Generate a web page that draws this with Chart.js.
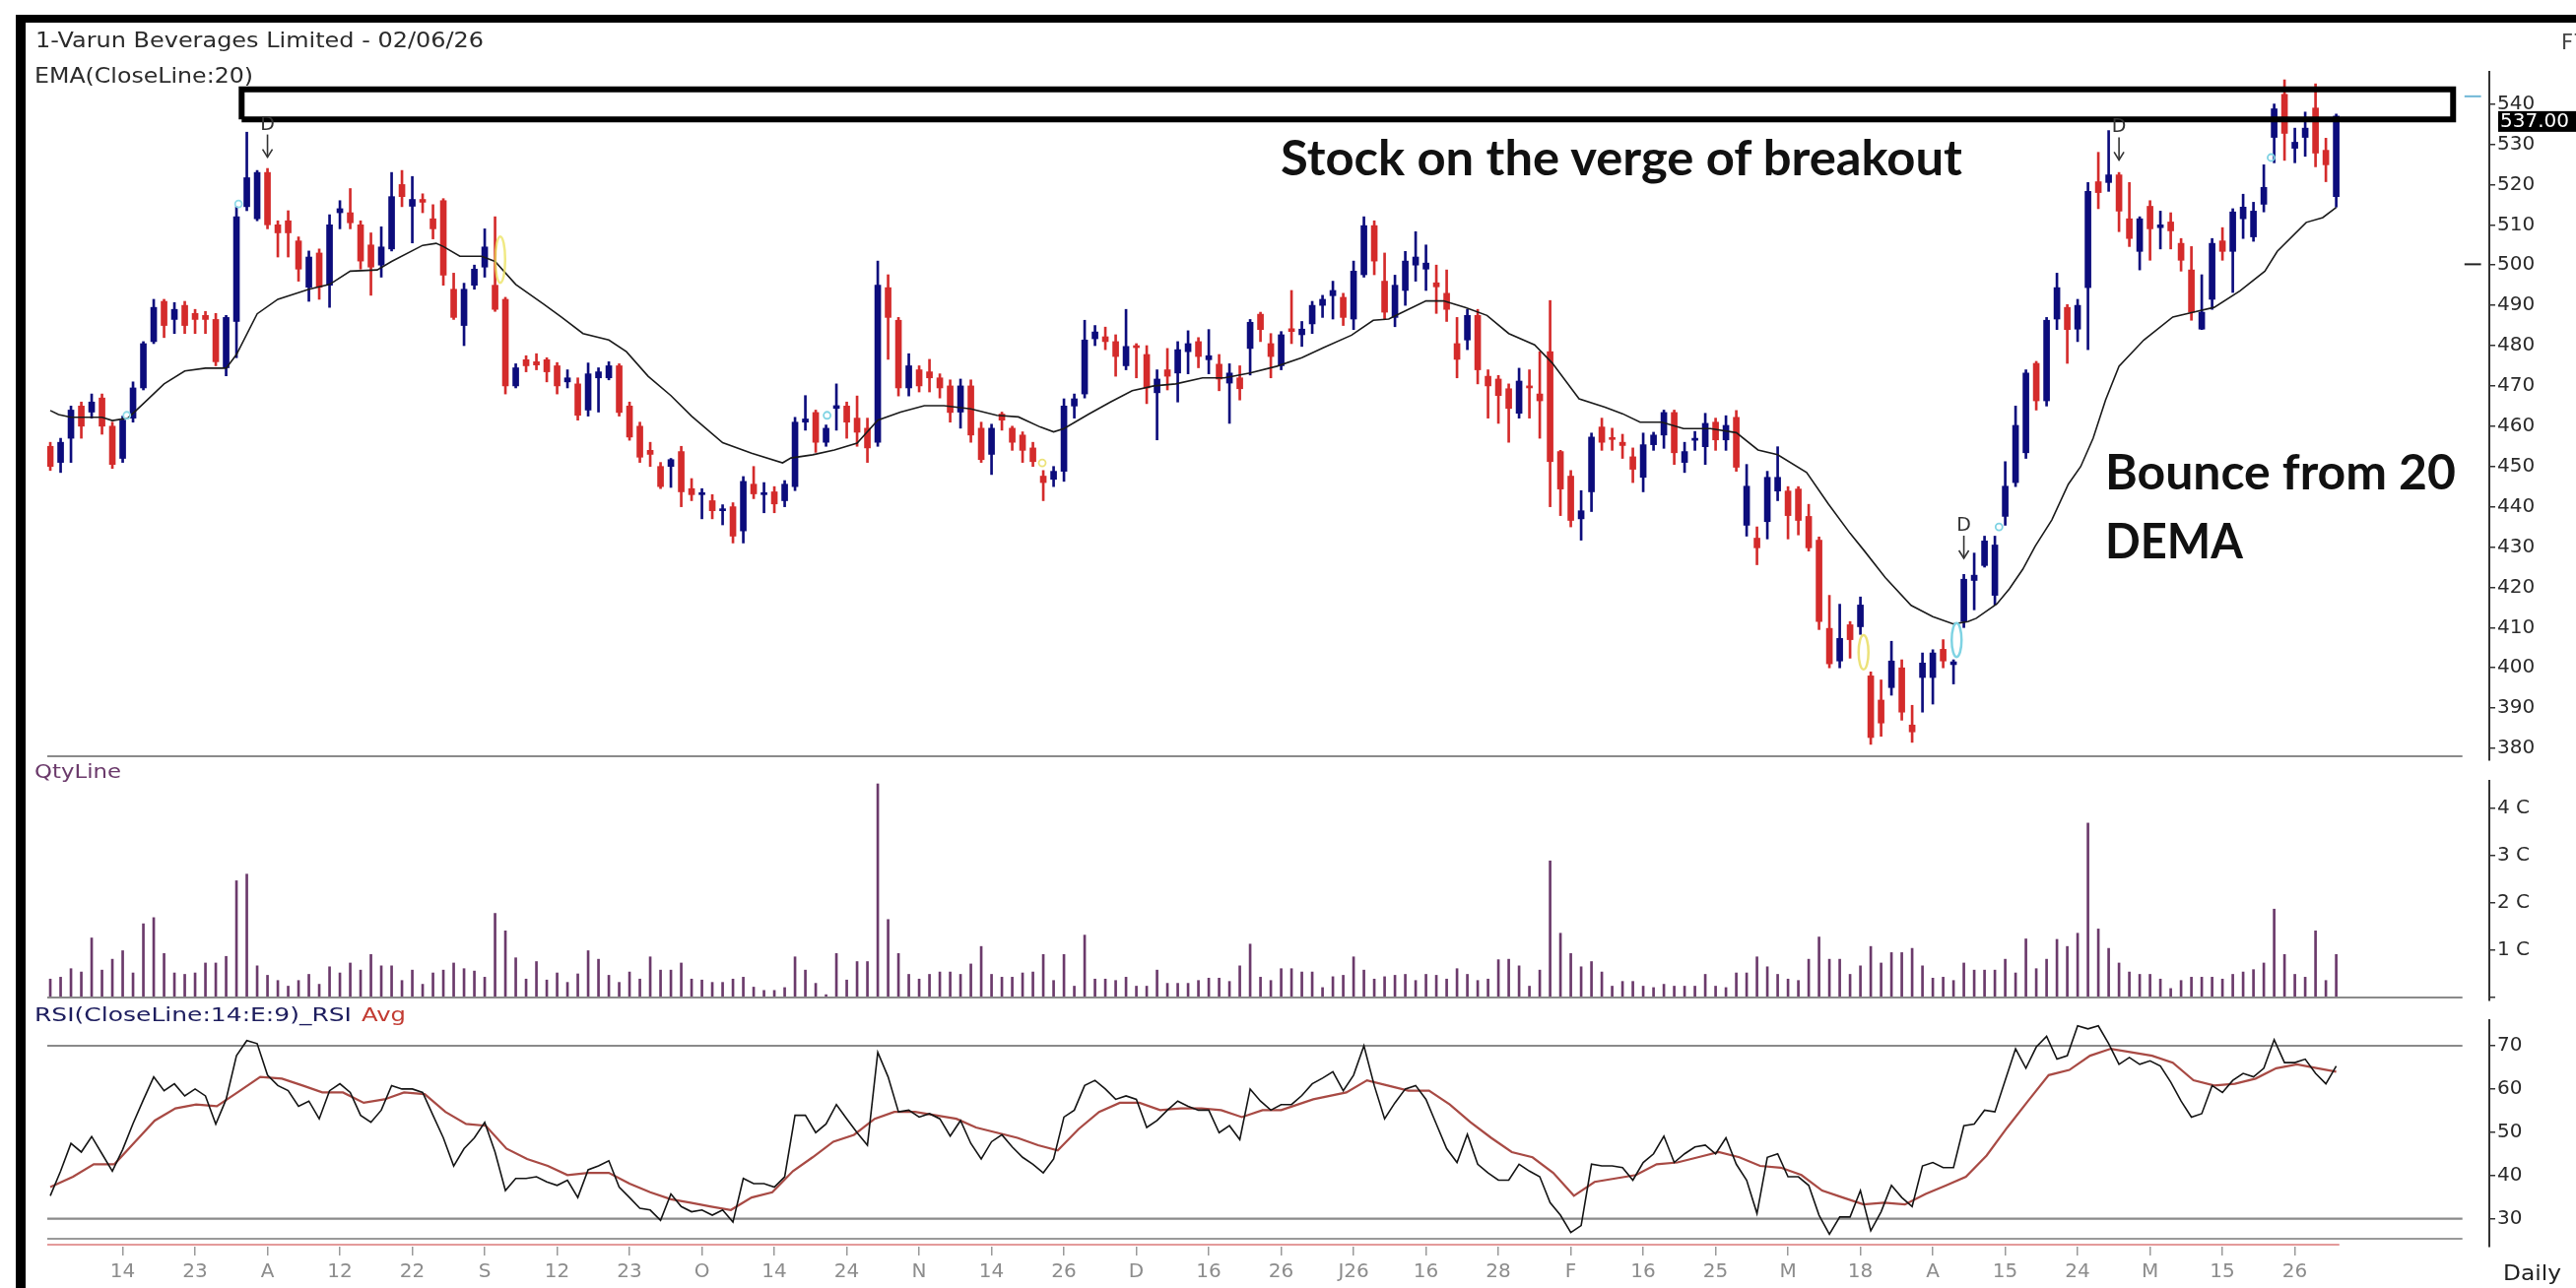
<!DOCTYPE html>
<html><head><meta charset="utf-8">
<script src="https://cdn.jsdelivr.net/npm/chart.js@4.4.1/dist/chart.umd.min.js"></script>
<style>
html,body{margin:0;padding:0;background:#fff;}
body{width:2615px;height:1308px;position:relative;overflow:hidden;}
canvas{position:absolute;left:0;top:0;}
.t{position:absolute;white-space:nowrap;line-height:normal;transform-origin:0 0;z-index:5;}
.frame{position:absolute;background:#000;z-index:6;}
</style></head><body>
<canvas id="cPrice" width="2615" height="1308"></canvas>
<canvas id="cVol" width="2615" height="1308"></canvas>
<canvas id="cRsi" width="2615" height="1308"></canvas>
<div class="frame" style="left:16px;top:15px;width:2599px;height:8px;"></div>
<div class="frame" style="left:16px;top:15px;width:10px;height:1293px;"></div>
<script>
// ---------------- DATA ----------------
const xLabels = ['14','23','A','12','22','S','12','23','O','14','24','N','14','26','D','16','26','J26','16','28','F','16','25','M','18','A','15','24','M','15','26'];
const xLabelIdx = [7,14,21,28,35,42,49,56,63,70,77,84,91,98,105,112,119,126,133,140,147,154,161,168,175,182,189,196,203,210,217];
const priceTicks = [380,390,400,410,420,430,440,450,460,470,480,490,500,510,520,530,540];
const volTicks = [0,1,2,3,4];
const rsiTicks = [30,40,50,60,70];

const opens = [
455,451,457,465,463.5,467,460,452,462,469.5,
481,491,486.5,490,488,487.5,486.5,474.5,486,514.5,
511.5,523,510,511,506,494.5,503,495,513,513,
510,505,500,504,520,514.6,516.3,511.5,516,494,
485,495,499.5,495,491.5,470,476.5,476,476.5,475,
471,470.5,464,472,472,475,465,460,454,450,
450,453.7,444.5,443,441.5,439,440,434,445.6,443,
443.7,441.5,445,461,463.4,456,464.4,465,462,459.5,
456,494.4,486.3,469.5,474,473.5,472,470,463.5,470,
459.5,453,463,459.5,457.8,454.6,447.6,446.8,448.8,465,
468,481.7,482.2,481,475,480,477.8,468.3,474,473.2,
478.5,481,476.5,475.4,470.7,472,479.3,487.8,480.5,475,
484.2,482.7,485.4,490,492.4,492,486.6,497.6,509.8,496,
487,493.7,500,499,495.6,493,480.5,481.4,487.5,472.4,
471.7,469.3,463.2,470,468,478.5,453.7,447.6,437,443.7,
459.8,457,456,452.4,447.3,455.4,457.8,463.4,451,456.5,
454.9,461,456.6,462.2,435.4,432.2,436.3,443.9,443.9,444.4,
437.6,431.7,409.8,401.7,410.7,410.2,398,392,395.1,400,
385.8,397.6,397.6,404.6,400.8,411.5,421.7,425.4,418,437.6,
446,453.4,475.6,466.3,486.6,489.5,484.1,494.4,520.7,520.5,
522.4,511.5,503.4,514.6,509.3,510.7,505.4,498.8,484.1,491.5,
506,503.4,511.5,507,515.1,531.7,542.4,529,531.7,539,
528.5,517];
const highs = [
456,457,465,466,468,468,461,462.5,471,481,
491.5,491.5,490.7,491,489,488.5,488,487.5,514.5,533,
523.5,524,511,513.5,507,503.5,504,512.5,516,519,
511,508,509.5,523,523.5,522,517.7,515,516.5,498,
495.5,500,509,512,492,475.5,477.5,478,477,475.8,
474,472,475.7,474.5,476,475.5,466,461,456,451,
452,455,447,444.5,443,440.5,441,447.5,450,446,
445,446.5,462.2,467.6,464,460.3,470.5,466,467.5,462,
501,497.6,487,478,475,476.6,473,471.5,471.7,471.5,
461,460.5,463.5,460,458.6,456,449,450,466.8,468,
486.3,485,484.6,482.7,489,480.5,480,474,479.3,481,
483.7,482,484,477.8,475.5,475,486.5,488.3,483,483.5,
493.7,486,491,492.5,496,493,501,512,511,503,
497.5,503.4,508.3,505,500,498.8,487,489,489,474,
472.6,470.5,474.4,474,478.5,491.2,454,449,444,458.3,
462,459.5,458,454.6,458.3,458.5,464,464,456,458.7,
463.2,462,462.6,463.9,450.5,435,448.8,454.9,445,445,
440.6,432.5,418,415.8,411.5,417.6,399,397,406.6,402,
390.7,403.7,404.5,407,402,423.2,428.5,432.7,432.7,451.2,
465,474,476.1,487,498,490.2,491.5,520.5,528,533.4,
523,520.5,512,516,513.4,513,506.6,504.6,497.6,506.6,
509.3,514,517.6,515.6,524.9,540,546,534,538,545,
531.5,537.5];
const lows = [
449,448.5,451,457,462,458,449.5,451,461,469,
480.5,482,483,483,483,483,475,472.5,477,513.5,
511,509,502,502,496,491,491.5,489.5,509,509,
499,492.5,497,503.5,514.5,505.5,513,506.5,495,486.5,
480,494,497,488.5,468,469.5,473.5,474,471,468,
469.5,461.5,462.5,463.5,471.5,462.5,456.5,451,450,444.5,
444.8,440,441.5,437,437,435.5,431,431,442,438.5,
438.5,440,444,459,453.5,455,459,457,455,451,
455,476.6,467.5,467.5,468.5,468.5,467,461,459.5,456,
451,448,459,454,451,450,441.5,445,446.3,462,
467,480,479,472.4,474,472,465.6,456.6,469,466,
473,474.5,473,468.8,460.7,466.5,472.7,481,472,474,
480.5,479.8,483,487,486.6,485,484,497,497.6,486.6,
484.7,490,496,493.7,488,486,472,479,470.5,462,
460.7,456,462,462,457,440,437.8,435,431.7,438.8,
454,454,452,446,443.7,454,454.5,450.5,448.5,454,
450.5,454,454,448.8,432.7,425.6,432,441.5,432,433,
429,409.5,400,400,402.4,408.3,381,383,393.2,387,
381.5,389,391,400,396,410,414.4,425,415.6,435.4,
445,452,464,465,484,475.6,481,479,514,518.3,
508.3,504.6,498.8,501.2,504,504,498.5,486.3,484,489,
501.2,493.2,506.6,505.9,513.2,525.4,526,525.4,527,524.4,
520.7,514.4];
const closes = [
450,456,464,460,466,460,450.5,461.5,469.5,480.5,
489.5,485,489,485,486.5,486.5,476,487,512,521.7,
523,510,508,508,499,502,494.5,510,514,510.5,
501,499.5,504.5,517,517,516.3,515.6,509,497.5,487,
494,499,504.5,489,470,474.5,475,475.2,473.5,470,
472,462.7,473,473.5,475,463.4,457.3,452.3,453,445,
451.7,443.7,443,443.5,439,439.5,432.7,446.3,443.2,443.5,
440.7,445.6,461,461.8,456,459.5,465.1,461,458.5,454.6,
495,487,469.5,475,470,472,469.5,463.4,470,457.8,
451.7,459.5,461.5,456,454,451.2,446,448.8,465,466.8,
481.4,483.4,481,477.3,479.8,479.5,469.5,471.7,472.4,479,
480.5,477.3,477.5,471.7,473.2,469.3,485.8,484,477.3,482.7,
483.5,484.1,490,491.5,493.7,487,498.5,509.8,501,488.3,
495,501,502,500.5,494.6,489,476.6,487.5,474,470,
467.6,464.4,471.2,469.5,466.3,451.2,444.4,436.6,439,457.3,
456,456.7,455.2,449.3,455.4,457.8,463.4,453.4,453.7,457,
460.7,456.6,460.2,449.8,445.1,429.8,447.3,447.3,437.8,436.6,
429.8,411.5,401,407.3,407,415.6,382.7,386.3,401.7,389,
384.1,401.2,403.7,401.7,401.5,422,423,431.5,430.5,445.1,
460.2,473.2,466.3,486.3,494.4,484,490,518.3,518,522.4,
513.4,506.6,511.5,509,510,508.5,501.2,488.3,488.3,505.4,
503.4,513.2,514.4,513.4,519.3,538.8,532.7,530.5,534,527.8,
524.9,537];

// EMA(20): [bar, value]
const emaPts = [[0,463.9],[0.8,462.9],[2,462.2],[5,462.2],[6,461.4],[7.5,462],[9,465.6],[11,470.5],[13,473.7],[15,474.4],[17,474.4],[18,477.8],[20,487.9],[22,491.5],[25,494],[27,495.2],[29,498.5],[31.6,498.8],[33,500.9],[36,504.9],[37.3,505.4],[38,504.6],[39.6,502.2],[41.7,502.2],[43,500.9],[45,495.2],[47.7,490.3],[49.4,487.1],[51.5,483],[54,481.4],[55.7,478.5],[57.8,472.4],[60,467.6],[62,462.5],[65,455.9],[67.8,453.3],[70.8,450.9],[71.6,452.1],[73.7,452.9],[75.8,454.1],[78,455.8],[80,461.5],[82.2,463.5],[84.5,465.1],[86.4,465.1],[89,464.3],[91.5,462.7],[93.6,462.3],[95.7,459.8],[97,458.6],[98,459.4],[100.4,463],[102.5,466],[104.6,468.8],[106.7,470],[108.8,470.5],[111.4,472],[113.5,472],[116,473.2],[118.6,474.9],[121,477],[123.1,479.5],[125.8,482.6],[127.9,486.3],[129.4,486.6],[130.4,487.9],[133,491.1],[134.7,491.1],[136.8,489.5],[138.9,487.5],[141,483],[143.5,480.2],[145.2,475.7],[147.8,466.8],[150.3,464.7],[152,463.1],[153.7,461],[155.8,461],[157.9,459.4],[160.5,459.4],[163,458.4],[165.1,454.1],[167,452.9],[169.8,448.5],[171.9,440.7],[174,433.4],[175.3,429.3],[177.4,422.4],[179.9,415.5],[182,412.7],[184,410.9],[185.4,411.5],[186.2,412.3],[188.2,415.9],[189.4,419.6],[190.7,424.5],[191.9,430.2],[193.5,436.7],[195.1,445.6],[196.3,450],[197.5,457],[198.7,466.5],[200,474.9],[202.4,481.4],[205.2,487.1],[207.2,488.3],[209.2,489.5],[211.7,493.6],[214.1,498.5],[215.3,503.4],[218.1,510.6],[219.7,511.8],[221,514.3]];

// Volume in crores
const vols = [
0.39,0.43,0.61,0.54,1.26,0.58,0.81,0.99,0.52,1.56,
1.69,0.93,0.52,0.49,0.52,0.73,0.73,0.87,2.47,2.61,
0.67,0.47,0.36,0.24,0.36,0.49,0.28,0.65,0.52,0.73,
0.58,0.91,0.67,0.67,0.36,0.58,0.28,0.52,0.58,0.73,
0.61,0.56,0.43,1.78,1.41,0.84,0.39,0.76,0.37,0.52,
0.32,0.5,0.99,0.81,0.47,0.32,0.54,0.39,0.86,0.58,
0.58,0.73,0.39,0.37,0.32,0.32,0.39,0.43,0.22,0.15,
0.15,0.21,0.86,0.58,0.3,0.06,0.93,0.37,0.76,0.76,
4.52,1.65,0.93,0.49,0.39,0.49,0.54,0.54,0.49,0.71,
1.08,0.49,0.43,0.43,0.52,0.54,0.91,0.36,0.91,0.24,
1.32,0.39,0.39,0.36,0.43,0.24,0.24,0.58,0.3,0.3,
0.3,0.36,0.41,0.41,0.34,0.67,1.13,0.43,0.36,
0.61,0.61,0.54,0.54,0.21,0.44,0.47,0.86,0.58,0.39,
0.44,0.47,0.49,0.36,0.49,0.47,0.39,0.61,0.49,0.36,
0.39,0.8,0.81,0.67,0.24,0.58,2.89,1.36,0.93,0.65,
0.76,0.54,0.24,0.34,0.34,0.24,0.21,0.28,0.24,0.24,
0.24,0.49,0.24,0.21,0.52,0.52,0.86,0.65,0.49,0.39,
0.36,0.81,1.28,0.81,0.81,0.49,0.67,1.08,0.73,0.95,
0.95,1.04,0.67,0.41,0.43,0.36,0.73,0.58,0.58,0.58,
0.81,0.52,1.24,0.61,0.81,1.23,1.08,1.36,3.69,1.45,
1.04,0.73,0.54,0.49,0.49,0.39,0.19,0.36,0.43,0.43,
0.43,0.39,0.49,0.54,0.59,0.73,1.87,0.91,0.49,0.43,
1.41,0.36,0.91];

// RSI(14) per bar
const rsi = [
35.3,41,47.4,45.4,49,45,41,46,52,57.5,
62.8,59.6,61.2,58.4,60,58.4,51.9,57.6,67.7,71.2,
70.5,63.2,60.8,59.6,56,57.2,53.1,59.6,61.2,59.2,
53.9,52.3,55.1,60.8,60,60,59.2,53.9,48.7,42.2,
46.2,48.7,52.3,45.4,36.5,39.3,39.3,39.7,38.5,37.7,
38.9,34.9,41.3,42.2,43.4,37.3,34.9,32.4,32,29.6,
35.7,32.8,31.6,32,30.8,32,29.2,39.3,38.1,38.1,
37.3,39.7,53.9,53.9,49.9,51.9,56.4,53.1,49.9,47,
68.5,62.8,54.7,55.1,53.5,54.3,53.1,49.1,52.7,47.4,
43.8,47.8,49.4,46.6,44.2,42.6,40.6,43.8,53.5,55.1,
60.8,62,60,57.6,58.4,57.6,51.1,52.7,55.1,57.2,
56,55.1,55.1,49.9,51.5,48.3,60,57.2,55.1,56.4,
56.4,58.5,61.2,62.5,64,59.6,63.2,70,60.8,53.1,
56.8,60,60.8,57.6,51.9,46.2,43,49.5,42.6,40.6,
38.9,38.9,42.6,41,39.7,33.7,30.8,26.8,28.4,42.6,
42.2,42.2,41.8,38.9,43,45,49.1,43,45,46.6,
47,45,48.7,42.6,38.9,31.2,44.2,45,39.7,39.7,
37.7,30.8,26.4,30.4,30.4,36.5,27.2,31.6,37.7,34.9,
32.8,42.2,43,41.8,41.8,51.5,51.9,55.1,54.7,62,
69.3,64.8,69.7,72.2,66.9,67.7,74.6,73.9,74.6,70.5,
65.7,67.3,65.7,66.5,65.3,61.6,57.2,53.5,54.3,60.8,
59.2,62,63.6,62.8,64.8,71.4,66.1,66.1,66.9,63.6,
61.2,65.3];

// RSI average (signal, 9): [bar, value]
const rsiAvgPts = [[0,37.3],[2.2,39.7],[4.2,42.6],[6.2,42.6],[8.2,47.8],[10.1,52.7],[12.1,55.5],[14.1,56.4],[16.1,56],[18.1,59.2],[20.3,62.8],[22.4,62.4],[24.4,60.8],[26.3,59.2],[28.3,59.2],[30.3,56.8],[32.3,57.6],[34.2,59.2],[36.2,58.8],[38.2,54.7],[40.2,51.9],[42.1,51.5],[44.1,46.2],[46.1,43.8],[48.1,42.2],[50,40.1],[52,40.6],[54,40.6],[56,38.1],[58,36.1],[60,34.5],[61.9,33.7],[63.9,32.8],[65.8,32],[67.8,34.9],[69.8,36.1],[71.8,41],[73.7,44.2],[75.7,47.8],[77.7,49.4],[79.7,53.1],[81.6,54.7],[83.6,54.7],[85.6,53.9],[87.6,53.1],[89.5,51.1],[91.5,49.9],[93.5,48.7],[95.5,47],[97.4,45.8],[99.4,50.7],[101.4,54.7],[103.4,56.8],[105.3,56.8],[107.3,55.1],[109.3,55.5],[111.3,55.5],[113.2,55.1],[115.2,53.5],[117.2,55.1],[119,55.1],[122.1,57.6],[125.3,59.2],[127.3,62],[129.3,60.8],[131.3,59.6],[133.3,59.6],[135.3,56.4],[137.3,52.3],[139.3,48.7],[141.3,45.4],[143.3,44.2],[145.3,40.6],[147.3,35.3],[149.3,38.5],[151.3,39.3],[153.3,40.1],[155.3,42.6],[157.3,43],[159.3,44.2],[161.3,45.4],[163.3,44.2],[165.3,42.2],[167.3,41.8],[169.3,40.1],[171.3,36.5],[173.3,34.9],[175.3,33.3],[177.3,33.7],[179.3,33.3],[181.3,35.7],[183.3,37.7],[185.2,39.7],[187.2,44.6],[189.2,51.1],[191.2,57.2],[193.2,63.2],[195.2,64.4],[197.2,67.7],[199.2,69.3],[201.2,68.5],[203.2,67.7],[205.2,66.1],[207.2,62],[209.2,60.8],[211.2,61.2],[213.2,62.4],[215.2,64.8],[217.2,65.7],[219.2,64.8],[221,64]];

// Annotation / signal markers (data space)
const dMarks = [{i:21,p:526.8},{i:185,p:427.2},{i:200,p:526.1}];
const ellipseMarks = [{i:43.5,lo:495.6,hi:507.1,c:'rgba(235,225,90,0.75)'},{i:175.3,lo:399.6,hi:408.1,c:'#ece27a'},{i:184.3,lo:402.7,hi:411.1,c:'#7fd3e3'}];
const dotMarks = [{i:7.4,p:462.7,c:'#8fdbe8'},{i:18.2,p:515.2,c:'#8fdbe8'},{i:75.1,p:462.7,c:'#7fd3e3'},{i:95.9,p:450.9,c:'#ece27a'},{i:188.4,p:435,c:'#7fd3e3'},{i:214.7,p:526.7,c:'#7fd3e3'}];
const boxRange = {x0:18.5, x1:232.3, lo:536.2, hi:543.6};
const axisDashes = [{p:541.9,c:'#6fb7d6'},{p:500.2,c:'#222'}];

// ---------------- LAYOUT ----------------
const W = 2615, H = 1308;
const X_MIN = -0.29, X_MAX = 235.8, LINE_END = 233.2;
const PLOT_LEFT = 48, AXIS_W = 88;
const PRICE = {top:73, bottom:772, min:377.07, max:547.97, floor:378.04};
const VOL = {top:793, bottom:1016, min:-0.0625, max:4.583};
const RSIP = {top:1036, bottom:1266, min:23.53, max:75.92, lowLine:25.35, redLine:24.0};

const UP = '#0c0c7c', DOWN = '#d42b2b';
const candleColors = opens.map((o,i)=> closes[i] >= o ? UP : DOWN);

function xAxis(show){
  const s = {type:'linear', min:X_MIN, max:X_MAX, offset:false, display:show,
    grid:{display:false}};
  if (show) {
    Object.assign(s, {
      position:'bottom',
      afterBuildTicks: sc => { sc.ticks = xLabelIdx.map(v=>({value:v})); },
      afterFit: sc => { sc.height = H - RSIP.bottom; },
      grid:{display:true, drawOnChartArea:false, drawTicks:true, tickLength:9, color:'#9a9a9a', lineWidth:1.5, offset:false},
      border:{display:false},
      ticks:{autoSkip:false, maxRotation:0, minRotation:0, color:'#8c8c8c', padding:5,
        font:{family:'DejaVu Sans', size:20}, callback:(v,idx)=>xLabels[idx]}
    });
  }
  return s;
}
function yAxis(min, max, ticks, fmt){
  return {type:'linear', position:'right', min, max,
    afterBuildTicks: sc => { sc.ticks = ticks.map(v=>({value:v})); },
    afterFit: sc => { sc.width = AXIS_W; },
    grid:{drawOnChartArea:false, drawTicks:true, tickLength:6, color:'#333', lineWidth:1.5},
    border:{display:true, color:'#333', width:2},
    ticks:{color:'#2a2a2a', padding:2, font:{family:'DejaVu Sans', size:20}, callback: fmt || (v=>String(v))}
  };
}
function baseOpts(area, xa, ya){
  return {responsive:false, animation:false, devicePixelRatio:1, events:[],
    layout:{padding:{left:PLOT_LEFT, right:0, top:area.top, bottom: xa.display ? 0 : H - area.bottom}},
    plugins:{legend:{display:false}, tooltip:{enabled:false}},
    scales:{x:xa, y:ya}};
}
function hLine(y, x0, x1){ return [{x:x0,y:y},{x:x1,y:y}]; }

// ---------------- PRICE CHART ----------------
const priceMarkers = {
  id:'priceMarkers',
  afterDatasetsDraw(chart){
    const {ctx, scales:{x, y}} = chart;
    ctx.save();
    ellipseMarks.forEach(m=>{
      const cx = x.getPixelForValue(m.i), y1 = y.getPixelForValue(m.hi), y2 = y.getPixelForValue(m.lo);
      ctx.beginPath(); ctx.ellipse(cx, (y1+y2)/2, 5, (y2-y1)/2, 0, 0, Math.PI*2);
      ctx.strokeStyle = m.c; ctx.lineWidth = 2.5; ctx.stroke();
    });
    dotMarks.forEach(m=>{
      const cx = x.getPixelForValue(m.i), cy = y.getPixelForValue(m.p);
      ctx.beginPath(); ctx.arc(cx, cy, 3.5, 0, Math.PI*2);
      ctx.strokeStyle = m.c; ctx.lineWidth = 1.8; ctx.stroke();
    });
    dMarks.forEach(m=>{
      const cx = x.getPixelForValue(m.i), ty = y.getPixelForValue(m.p);
      ctx.strokeStyle = '#333'; ctx.lineWidth = 1.6;
      ctx.beginPath(); ctx.moveTo(cx, ty-23); ctx.lineTo(cx, ty); ctx.stroke();
      ctx.beginPath(); ctx.moveTo(cx-5, ty-8); ctx.lineTo(cx, ty); ctx.lineTo(cx+5, ty-8); ctx.stroke();
      ctx.fillStyle = '#333'; ctx.font = '19px "DejaVu Sans"'; ctx.textAlign = 'center'; ctx.textBaseline = 'alphabetic';
      ctx.fillText('D', cx, ty-28);
    });
    ctx.restore();
  },
  afterDraw(chart){
    const {ctx, scales:{y}, chartArea} = chart;
    const last = closes[closes.length-1];
    const py = y.getPixelForValue(last);
    ctx.save();
    ctx.fillStyle = '#000';
    ctx.fillRect(chartArea.right + 9, py - 5, 100, 21);
    ctx.fillStyle = '#fff'; ctx.font = '20px "DejaVu Sans"'; ctx.textAlign='left'; ctx.textBaseline='middle';
    ctx.fillText(last.toFixed(2), chartArea.right + 11, py + 6);
    ctx.restore();
  }
};

new Chart(document.getElementById('cPrice'), {
  type:'bar',
  data:{datasets:[
    {type:'line', data:[{x:boxRange.x0,y:boxRange.lo},{x:boxRange.x1,y:boxRange.lo},{x:boxRange.x1,y:boxRange.hi},{x:boxRange.x0,y:boxRange.hi},{x:boxRange.x0,y:boxRange.lo}],
      borderColor:'#000', borderWidth:6, pointRadius:0, borderJoinStyle:'miter', tension:0, order:0, clip:false},
    {type:'line', data:emaPts.map(([i,v])=>({x:i,y:v})), borderColor:'#1a1a1a', borderWidth:1.6, pointRadius:0, tension:0, order:1},
    {type:'bar', data:opens.map((o,i)=>({x:i, y:[o, closes[i]]})), backgroundColor:candleColors, barThickness:6, grouped:false, minBarLength:2, order:2},
    {type:'bar', data:lows.map((l,i)=>({x:i, y:[l, highs[i]]})), backgroundColor:candleColors, barThickness:2, grouped:false, order:3},
    {type:'line', data:hLine(PRICE.floor, X_MIN, LINE_END), borderColor:'#8a8a8a', borderWidth:2, pointRadius:0, order:4},
    ...axisDashes.map(d=>({type:'line', data:hLine(d.p, 233.4, 235.0), borderColor:d.c, borderWidth:2, pointRadius:0, order:4}))
  ]},
  options: baseOpts(PRICE, xAxis(false), yAxis(PRICE.min, PRICE.max, priceTicks)),
  plugins:[priceMarkers]
});

// ---------------- VOLUME CHART ----------------
new Chart(document.getElementById('cVol'), {
  type:'bar',
  data:{datasets:[
    {type:'bar', data:vols.map((v,i)=>({x:i,y:v})), backgroundColor:'#6b3a6b', barThickness:2, grouped:false, order:1},
    {type:'line', data:hLine(0, X_MIN, LINE_END), borderColor:'#8a8a8a', borderWidth:2, pointRadius:0, order:0}
  ]},
  options: baseOpts(VOL, xAxis(false), yAxis(VOL.min, VOL.max, volTicks, v => v===0 ? '' : v+' C'))
});

// ---------------- RSI CHART ----------------
new Chart(document.getElementById('cRsi'), {
  type:'line',
  data:{datasets:[
    {data:rsi.map((v,i)=>({x:i,y:v})), borderColor:'#141414', borderWidth:1.6, pointRadius:0, tension:0, order:0},
    {data:rsiAvgPts.map(([i,v])=>({x:i,y:v})), borderColor:'#a84a44', borderWidth:2.2, pointRadius:0, tension:0, order:1},
    {data:hLine(70, X_MIN, LINE_END), borderColor:'#8a8a8a', borderWidth:2.2, pointRadius:0, order:2},
    {data:hLine(30, X_MIN, LINE_END), borderColor:'#8a8a8a', borderWidth:2.2, pointRadius:0, order:2},
    {data:hLine(RSIP.lowLine, X_MIN, LINE_END), borderColor:'#9a9a9a', borderWidth:2, pointRadius:0, order:2},
    {data:hLine(RSIP.redLine, X_MIN, 221.3), borderColor:'#e49a9a', borderWidth:2, pointRadius:0, order:2}
  ]},
  options: baseOpts(RSIP, xAxis(true), yAxis(RSIP.min, RSIP.max, rsiTicks))
});

// ---------------- TEXT ----------------
function placeText(txt, o){
  const d = document.createElement('div');
  d.className = 't';
  d.style.font = `${o.weight||400} ${o.size}px ${o.family||'"DejaVu Sans"'}`;
  d.style.color = o.color || '#222';
  const s = document.createElement('span'); s.textContent = txt;
  const m = document.createElement('span'); m.style.cssText = 'display:inline-block;width:0;height:0;';
  d.appendChild(s); d.appendChild(m);
  document.body.appendChild(d);
  const base = m.offsetTop;
  const w = s.getBoundingClientRect().width;
  d.style.left = o.x + 'px';
  d.style.top = (o.baseline - base) + 'px';
  if (o.width) d.style.transform = `scaleX(${o.width / w})`;
  return d;
}
placeText('1-Varun Beverages Limited - 02/06/26', {x:36, baseline:48, size:21, width:455, color:'#2b2b2b'});
placeText('EMA(CloseLine:20)', {x:35, baseline:84, size:21, width:222, color:'#2b2b2b'});
placeText('F7', {x:2600, baseline:50, size:21, color:'#444'});
placeText('QtyLine', {x:35, baseline:790, size:19, width:88, color:'#6b3a6b'});
placeText('RSI(CloseLine:14:E:9)_RSI', {x:35, baseline:1037, size:19, width:322, color:'#1d1d5e'});
placeText('Avg', {x:367, baseline:1037, size:19, width:45, color:'#c23b32'});
placeText('Daily', {x:2541, baseline:1300, size:21, width:59, color:'#222'});
placeText('Stock on the verge of breakout', {x:1300, baseline:178, size:49, weight:700, family:'Lato', width:692, color:'#111'});
placeText('Bounce from 20', {x:2137, baseline:497, size:49, weight:700, family:'Lato', width:356, color:'#111'});
placeText('DEMA', {x:2137, baseline:567, size:49, weight:700, family:'Lato', width:140, color:'#111'});
</script>
</body></html>
